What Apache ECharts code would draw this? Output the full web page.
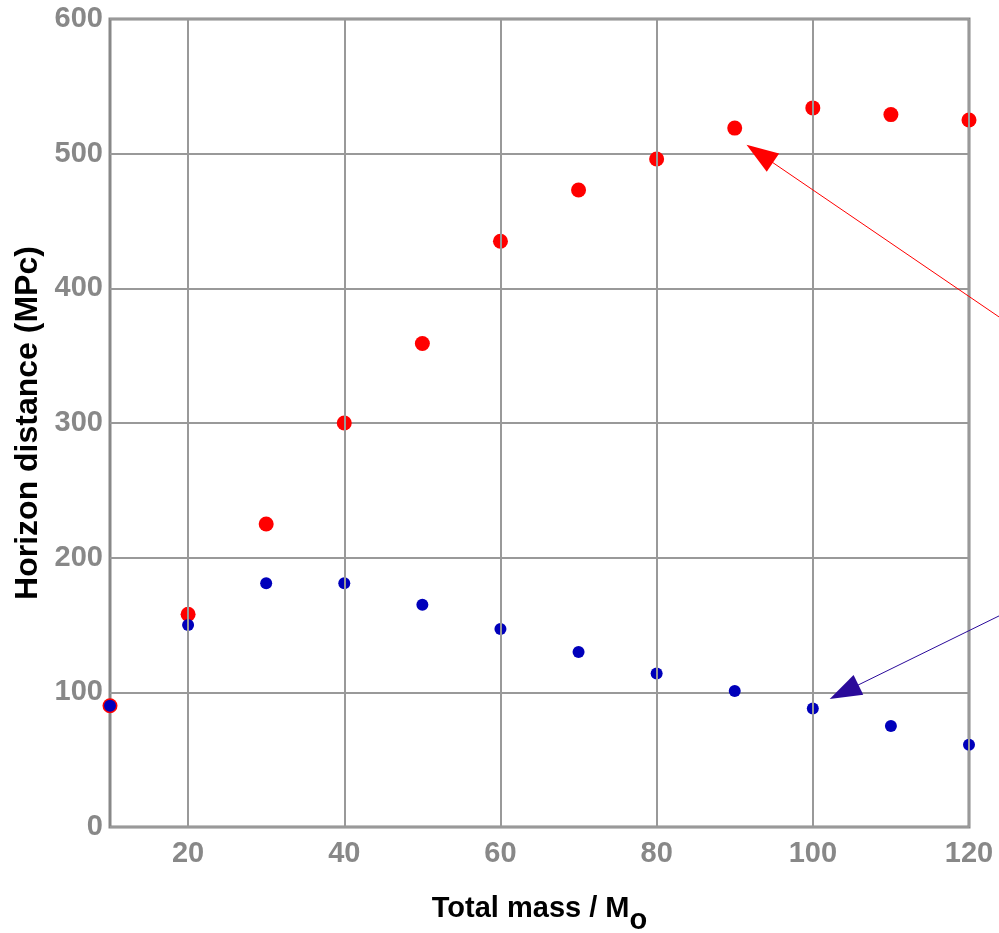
<!DOCTYPE html>
<html>
<head>
<meta charset="utf-8">
<script src="https://cdn.jsdelivr.net/npm/echarts@6/dist/echarts.min.js"></script>
<style>
html,body{margin:0;padding:0;background:#fff;}
#chart{width:999px;height:933px;}
</style>
</head>
<body>
<div id="chart"></div>
<script>
// ---- data ----
var masses = [10, 20, 30, 40, 50, 60, 70, 80, 90, 100, 110, 120];
var redValues = [90, 158, 225, 300, 359, 435, 473, 496, 519, 534, 529, 525];
var blueValues = [90, 150, 181, 181, 165, 147, 130, 114, 101, 88, 75, 61];
var xTicks = [20, 40, 60, 80, 100, 120];
var yTicks = [0, 100, 200, 300, 400, 500, 600];
// arrowhead centres (data units)
var redArrowHead = [93.2, 500];
var blueArrowHead = [104.0, 100.3];

var chart = echarts.init(document.getElementById('chart'), null, {renderer: 'canvas'});
var FONT = '"Liberation Sans", Arial, sans-serif';

function pairs(xs, ys) { return xs.map(function (x, i) { return [x, ys[i]]; }); }

var option = {
  backgroundColor: '#ffffff',
  animation: false,
  grid: {left: 110, right: 30, top: 19, bottom: 106, outerBoundsMode: 'none', containLabel: false,
         show: true, borderColor: '#888888', borderWidth: 3, backgroundColor: 'transparent'},
  xAxis: {
    type: 'value', min: 10, max: 120, interval: 10,
    axisLine: {show: false},
    axisTick: {show: false},
    splitLine: {show: false},
    axisLabel: {
      fontFamily: FONT, fontSize: 29, fontWeight: 'bold', color: '#888888', margin: 12,
      formatter: function (v) { return xTicks.indexOf(v) >= 0 ? String(v) : ''; }
    },
    name: 'Total mass / M{sub|o}',
    nameLocation: 'middle', nameGap: 55,
    nameTextStyle: {
      fontFamily: FONT, fontSize: 29, fontWeight: 'bold', color: '#000000',
      rich: {
        sub: {fontFamily: FONT, fontSize: 29, fontWeight: 'bold', color: '#000000', padding: [24, 0, 0, 0], verticalAlign: 'top'}
      },
      verticalAlign: 'top'
    }
  },
  yAxis: {
    type: 'value', min: 0, max: 600, interval: 100,
    axisLine: {show: false},
    axisTick: {show: false},
    splitLine: {show: true, lineStyle: {color: '#999999', width: 2}},
    axisLabel: {fontFamily: FONT, fontSize: 29, fontWeight: 'bold', color: '#888888', margin: 7,
      formatter: function (v) { return yTicks.indexOf(v) >= 0 ? String(v) : ''; }},
    name: 'Horizon distance (MPc)',
    nameLocation: 'middle', nameGap: 64,
    nameTextStyle: {fontFamily: FONT, fontSize: 32, fontWeight: 'bold', color: '#000000'}
  },
  series: [
    {
      type: 'scatter', data: [], z: 1, silent: true,
      markLine: {
        silent: true, symbol: ['none', 'none'], label: {show: false},
        lineStyle: {color: '#999999', width: 2, type: 'solid'},
        data: xTicks.map(function (v) { return {xAxis: v}; })
      }
    },
    {
      type: 'scatter', name: 'red', data: pairs(masses, redValues), symbolSize: 15, z: 3,
      itemStyle: {color: '#ff0000', opacity: 1},
      markLine: {
        silent: true, symbol: ['none', 'triangle'], symbolSize: [22, 32], label: {show: false},
        lineStyle: {color: '#ff0000', width: 1, type: 'solid', opacity: 1},
        itemStyle: {color: '#ff0000'},
        data: [[{x: 1005, y: 321}, {coord: redArrowHead}]]
      }
    },
    {
      type: 'scatter', name: 'blue', data: pairs(masses, blueValues), symbolSize: 12, z: 4,
      itemStyle: {color: '#0000bb', opacity: 1},
      markLine: {
        silent: true, symbol: ['none', 'triangle'], symbolSize: [22, 32], label: {show: false},
        lineStyle: {color: '#2a0a9a', width: 1, type: 'solid', opacity: 1},
        itemStyle: {color: '#2a0a9a'},
        data: [[{x: 1005, y: 613}, {coord: blueArrowHead}]]
      }
    }
  ]
};
chart.setOption(option);
</script>
</body>
</html>
